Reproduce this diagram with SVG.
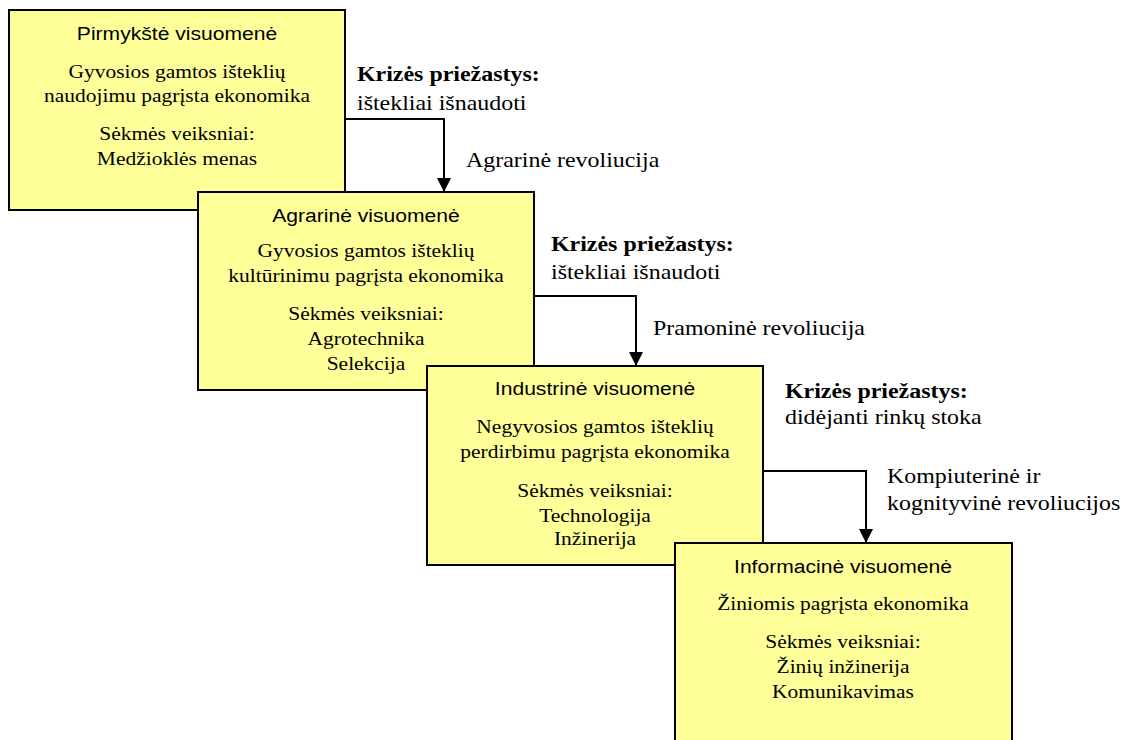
<svg xmlns="http://www.w3.org/2000/svg" width="1125" height="740" viewBox="0 0 1125 740">
<style>
.box{fill:#FFFF99;stroke:#000;stroke-width:2}
.t{font-family:"Liberation Sans",Arial,sans-serif;font-size:19px;text-anchor:middle;fill:#000}
.b{font-family:"Liberation Serif","Times New Roman",serif;font-size:19px;text-anchor:middle;fill:#000}
.l{font-family:"Liberation Serif","Times New Roman",serif;font-size:21px;fill:#000}
.k{font-weight:bold}
.c{fill:none;stroke:#000;stroke-width:2}
</style>
<defs>
<marker id="ah" markerWidth="14" markerHeight="16" refX="14" refY="8" orient="auto" markerUnits="userSpaceOnUse">
<path d="M0,1 L14,8 L0,15 Z" fill="#000"/>
</marker>
</defs>
<rect width="1125" height="740" fill="#fff"/>
<g id="connectors">
<path class="c" d="M345,119 H444 V192" marker-end="url(#ah)"/>
<path class="c" d="M534,296 H636 V366" marker-end="url(#ah)"/>
<path class="c" d="M763,471 H866 V543" marker-end="url(#ah)"/>
</g>
<g id="node1">
<rect class="box" x="9" y="10" width="336" height="200"/>
<text class="t" transform="translate(177,40) scale(1.11,1)">Pirmykštė visuomenė</text>
<text class="b" transform="translate(177,78) scale(1.13,1)">Gyvosios gamtos išteklių</text>
<text class="b" transform="translate(177,102) scale(1.13,1)">naudojimu pagrįsta ekonomika</text>
<text class="b" transform="translate(177,140) scale(1.13,1)">Sėkmės veiksniai:</text>
<text class="b" transform="translate(177,165) scale(1.13,1)">Medžioklės menas</text>
</g>
<g id="node2">
<rect class="box" x="198" y="192" width="336" height="198"/>
<text class="t" transform="translate(366,222) scale(1.11,1)">Agrarinė visuomenė</text>
<text class="b" transform="translate(366,257) scale(1.13,1)">Gyvosios gamtos išteklių</text>
<text class="b" transform="translate(366,282) scale(1.13,1)">kultūrinimu pagrįsta ekonomika</text>
<text class="b" transform="translate(366,320) scale(1.13,1)">Sėkmės veiksniai:</text>
<text class="b" transform="translate(366,345) scale(1.13,1)">Agrotechnika</text>
<text class="b" transform="translate(366,370) scale(1.13,1)">Selekcija</text>
</g>
<g id="node3">
<rect class="box" x="427" y="366" width="336" height="199"/>
<text class="t" transform="translate(595,395) scale(1.11,1)">Industrinė visuomenė</text>
<text class="b" transform="translate(595,433) scale(1.13,1)">Negyvosios gamtos išteklių</text>
<text class="b" transform="translate(595,458) scale(1.13,1)">perdirbimu pagrįsta ekonomika</text>
<text class="b" transform="translate(595,497) scale(1.13,1)">Sėkmės veiksniai:</text>
<text class="b" transform="translate(595,522) scale(1.13,1)">Technologija</text>
<text class="b" transform="translate(595,545) scale(1.13,1)">Inžinerija</text>
</g>
<g id="node4">
<rect class="box" x="675" y="543" width="337" height="210"/>
<text class="t" transform="translate(843,573) scale(1.11,1)">Informacinė visuomenė</text>
<text class="b" transform="translate(843,610) scale(1.13,1)">Žiniomis pagrįsta ekonomika</text>
<text class="b" transform="translate(843,648) scale(1.13,1)">Sėkmės veiksniai:</text>
<text class="b" transform="translate(843,673) scale(1.13,1)">Žinių inžinerija</text>
<text class="b" transform="translate(843,698) scale(1.13,1)">Komunikavimas</text>
</g>
<g id="labels">
<text class="l k" transform="translate(357,81) scale(1.14,1)">Krizės priežastys:</text>
<text class="l" transform="translate(357,110) scale(1.14,1)">ištekliai išnaudoti</text>
<text class="l" transform="translate(466,167) scale(1.14,1)">Agrarinė revoliucija</text>
<text class="l k" transform="translate(551,251) scale(1.14,1)">Krizės priežastys:</text>
<text class="l" transform="translate(551,279) scale(1.14,1)">ištekliai išnaudoti</text>
<text class="l" transform="translate(653,335) scale(1.14,1)">Pramoninė revoliucija</text>
<text class="l k" transform="translate(785,398) scale(1.14,1)">Krizės priežastys:</text>
<text class="l" transform="translate(785,424) scale(1.14,1)">didėjanti rinkų stoka</text>
<text class="l" transform="translate(887,483) scale(1.14,1)">Kompiuterinė ir</text>
<text class="l" transform="translate(887,510) scale(1.14,1)">kognityvinė revoliucijos</text>
</g>
</svg>
